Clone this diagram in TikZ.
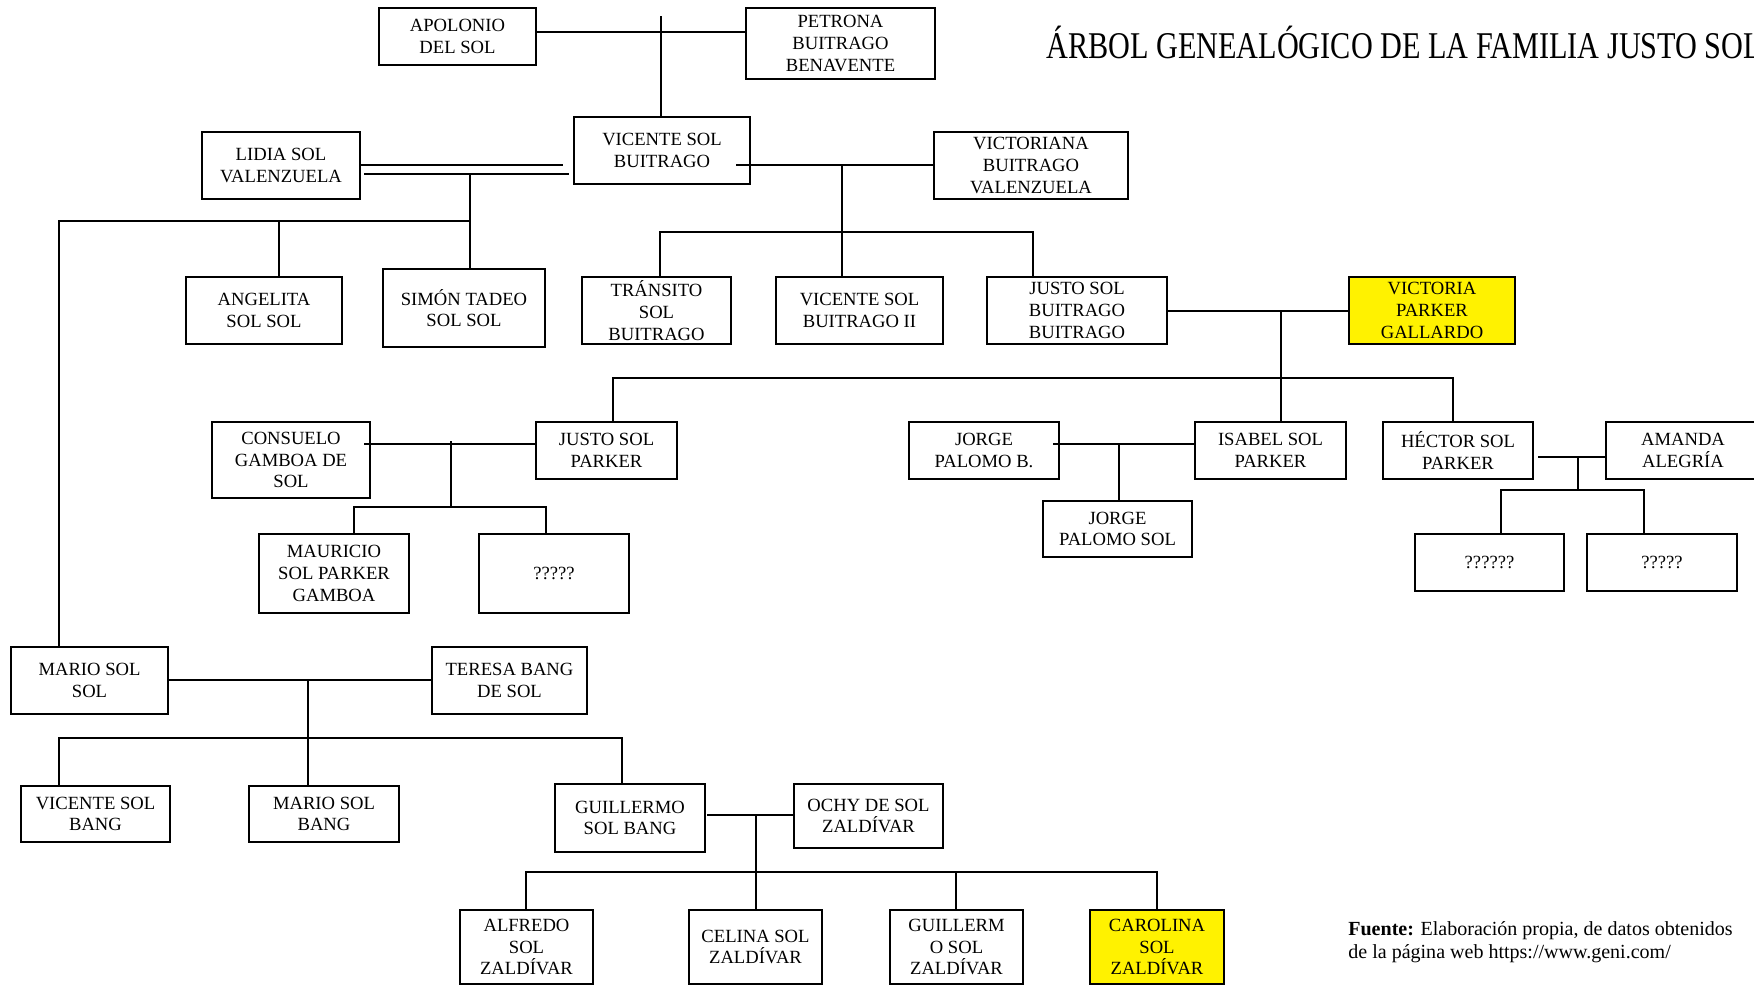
\documentclass[tikz,border=0pt]{standalone}
\usepackage{fontspec}
\setmainfont{Liberation Serif}
\newfontfamily\titulofont[FakeStretch=0.8]{Liberation Serif}
\usetikzlibrary{positioning}
\tikzset{
    persona/.style = {rectangle, draw=black, line width=0.9pt, fill=white, align=center, inner sep=0pt, font=\fontsize{10.6}{12.3}\selectfont},
    personay/.style = {persona, fill=yellow},
    tam/.style 2 args = {minimum width=#1*0.02cm, minimum height=#2*0.02cm},
    lazo/.style = {line width=0.9pt, draw=black, line cap=rect},
}

\begin{document}
\begin{tikzpicture}[x=0.02cm,y=-0.02cm]
\useasboundingbox (0,0) rectangle (1754,984);
%
\node[anchor=base west, inner sep=0pt, font=\titulofont\fontsize{21.5}{24}\selectfont] at (1046,58) (titulo) {ÁRBOL GENEALÓGICO DE LA FAMILIA JUSTO SOL};
%
\node[persona, tam={157}{57}] at (457.5,36.5) (apolonio) {APOLONIO\\DEL SOL};
\node[persona, tam={189}{71}] at (840.5,43.5) (petrona) {PETRONA\\BUITRAGO\\BENAVENTE};
\node[persona, tam={176}{67}] at (662,150.5) (vicente) {VICENTE SOL\\BUITRAGO};
\node[persona, tam={158}{67}] at (281,165.5) (lidia) {LIDIA SOL\\VALENZUELA};
\node[persona, tam={194}{67}] at (1031,165.5) (victoriana) {VICTORIANA\\BUITRAGO\\VALENZUELA};
%
\node[persona, tam={156}{67}] at (264,310.5) (angelita) {ANGELITA\\SOL SOL};
\node[persona, tam={162}{78}] at (464,308) (simon) {SIMÓN TADEO\\SOL SOL};
\node[persona, tam={149}{67}] at (656.5,310.5) (transito) {TRÁNSITO\\SOL\\BUITRAGO};
\node[persona, tam={167}{67}] at (859.5,310.5) (vicenteii) {VICENTE SOL\\BUITRAGO II};
\node[persona, tam={180}{67}] at (1077,310.5) (justo) {JUSTO SOL\\BUITRAGO\\BUITRAGO};
\node[personay, tam={166}{67}] at (1432,310.5) (victoria) {VICTORIA\\PARKER\\GALLARDO};
%
\node[persona, tam={158}{76}] at (291,460) (consuelo) {CONSUELO\\GAMBOA DE\\SOL};
\node[persona, tam={141}{57}] at (606.5,450.5) (justop) {JUSTO SOL\\PARKER};
\node[persona, tam={150}{79}] at (334,573.5) (mauricio) {MAURICIO\\SOL PARKER\\GAMBOA};
\node[persona, tam={150}{79}] at (554,573.5) (hijoa) {?????};
\node[persona, tam={150}{57}] at (984,450.5) (jorgeb) {JORGE\\PALOMO B.};
\node[persona, tam={151}{57}] at (1270.5,450.5) (isabel) {ISABEL SOL\\PARKER};
\node[persona, tam={149}{56}] at (1117.5,529) (jorges) {JORGE\\PALOMO SOL};
\node[persona, tam={150}{57}] at (1458,450.5) (hector) {HÉCTOR SOL\\PARKER};
\node[persona, tam={154}{57}] at (1683,450.5) (amanda) {AMANDA\\ALEGRÍA};
\node[persona, tam={149}{57}] at (1489.5,562.5) (hijob) {??????};
\node[persona, tam={150}{57}] at (1662,562.5) (hijoc) {?????};
%
\node[persona, tam={157}{67}] at (89.5,680.5) (mario) {MARIO SOL\\SOL};
\node[persona, tam={155}{67}] at (509.5,680.5) (teresa) {TERESA BANG\\DE SOL};
\node[persona, tam={149}{56}] at (95.5,814) (vicenteb) {VICENTE SOL\\BANG};
\node[persona, tam={150}{56}] at (324,814) (mariob) {MARIO SOL\\BANG};
\node[persona, tam={150}{68}] at (630,818) (guillermo) {GUILLERMO\\SOL BANG};
\node[persona, tam={149}{64}] at (868.5,816) (ochy) {OCHY DE SOL\\ZALDÍVAR};
\node[persona, tam={133}{74}] at (526.5,947) (alfredo) {ALFREDO\\SOL\\ZALDÍVAR};
\node[persona, tam={133}{74}] at (755.5,947) (celina) {CELINA SOL\\ZALDÍVAR};
\node[persona, tam={133}{74}] at (956.5,947) (guillermoz) {GUILLERM\\O SOL\\ZALDÍVAR};
\node[personay, tam={134}{74}] at (1157,947) (carolina) {CAROLINA\\SOL\\ZALDÍVAR};
%
\node[anchor=north west, align=left, inner sep=0pt, font=\fontsize{11.4}{13}\selectfont] at (1348,921) (fuente) {\textbf{Fuente:} Elaboración propia, de datos obtenidos\\de la página web https://www.geni.com/};
%
% Apolonio - Petrona
\coordinate (pa) at (661,32);
\coordinate (pb) at (661,17);
\draw[lazo] (apolonio.east |- pa) -- (petrona.west |- pa);
\draw[lazo] (pb) -- (pb |- vicente.north);
% Vicente - Lidia
\coordinate (la) at (562,165);
\coordinate (lb) at (365,174);
\coordinate (lc) at (568,174);
\coordinate (ld) at (470,174);
\coordinate (le) at (59,221);
\coordinate (lf) at (279,221);
\draw[lazo] (lidia.east |- la) -- (la);
\draw[lazo] (lb) -- (lc);
\draw[lazo] (ld) -- (ld |- simon.north);
\draw[lazo] (le) -- (le -| ld);
\draw[lazo] (lf) -- (lf |- angelita.north);
\draw[lazo] (le) -- (le |- mario.north);
% Vicente - Victoriana
\coordinate (va) at (737,165);
\coordinate (vb) at (842,165);
\coordinate (vc) at (660,232);
\coordinate (vd) at (1033,232);
\draw[lazo] (va) -- (victoriana.west |- va);
\draw[lazo] (vb) -- (vb |- vicenteii.north);
\draw[lazo] (vc) -- (vd);
\draw[lazo] (vc) -- (vc |- transito.north);
\draw[lazo] (vd) -- (vd |- justo.north);
% Justo - Victoria
\coordinate (ja) at (1281,311);
\coordinate (jb) at (613,378);
\coordinate (jc) at (1453,378);
\draw[lazo] (justo.east |- ja) -- (victoria.west |- ja);
\draw[lazo] (ja) -- (ja |- isabel.north);
\draw[lazo] (jb) -- (jc);
\draw[lazo] (jb) -- (jb |- justop.north);
\draw[lazo] (jc) -- (jc |- hector.north);
% Justo Sol Parker - Consuelo
\coordinate (ca) at (365,444);
\coordinate (cb) at (451,442);
\coordinate (cc) at (354,507);
\coordinate (cd) at (546,507);
\draw[lazo] (ca) -- (justop.west |- ca);
\draw[lazo] (cb) -- (cb |- cc);
\draw[lazo] (cc) -- (cd);
\draw[lazo] (cc) -- (cc |- mauricio.north);
\draw[lazo] (cd) -- (cd |- hijoa.north);
% Isabel - Jorge
\coordinate (ia) at (1054,444);
\coordinate (ib) at (1119,444);
\draw[lazo] (ia) -- (isabel.west |- ia);
\draw[lazo] (ib) -- (ib |- jorges.north);
% Hector - Amanda
\coordinate (ha) at (1539,457);
\coordinate (hb) at (1578,457);
\coordinate (hc) at (1501,490);
\coordinate (hd) at (1644,490);
\draw[lazo] (ha) -- (amanda.west |- ha);
\draw[lazo] (hb) -- (hb |- hc);
\draw[lazo] (hc) -- (hd);
\draw[lazo] (hc) -- (hc |- hijob.north);
\draw[lazo] (hd) -- (hd |- hijoc.north);
% Mario - Teresa
\coordinate (ma) at (308,680);
\coordinate (mb) at (59,738);
\coordinate (mc) at (622,738);
\draw[lazo] (mario.east |- ma) -- (teresa.west |- ma);
\draw[lazo] (ma) -- (ma |- mariob.north);
\draw[lazo] (mb) -- (mc);
\draw[lazo] (mb) -- (mb |- vicenteb.north);
\draw[lazo] (mc) -- (mc |- guillermo.north);
% Guillermo - Ochy
\coordinate (ga) at (708,815);
\coordinate (gb) at (756,815);
\coordinate (gc) at (526,872);
\coordinate (gd) at (1157,872);
\coordinate (ge) at (956,872);
\draw[lazo] (ga) -- (ochy.west |- ga);
\draw[lazo] (gb) -- (gb |- celina.north);
\draw[lazo] (gc) -- (gd);
\draw[lazo] (gc) -- (gc |- alfredo.north);
\draw[lazo] (ge) -- (ge |- guillermoz.north);
\draw[lazo] (gd) -- (gd |- carolina.north);
\end{tikzpicture}
\end{document}
